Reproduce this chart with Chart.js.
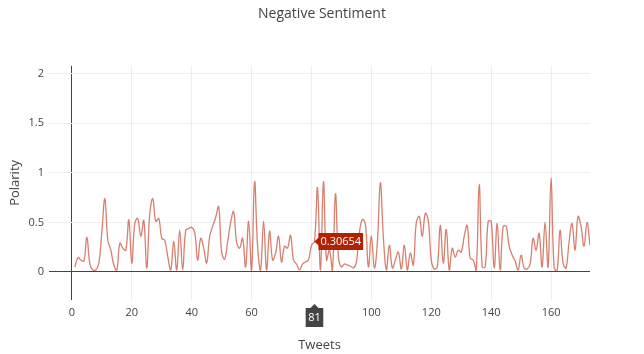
<!DOCTYPE html>
<html>
<head>
<meta charset="utf-8">
<title>Negative Sentiment</title>
<script src="https://cdn.jsdelivr.net/npm/chart.js@4"></script>
<style>
  html, body { margin: 0; padding: 0; background: #fff; }
  #wrap { width: 644px; height: 354px; }
</style>
</head>
<body>
<div id="wrap"><canvas id="sentimentChart" width="644" height="354"></canvas></div>
<script>
// ===== Data =====
const firstTweet = 1;
const polarity = [
  0.05, 0.145, 0.12, 0.11, 0.35, 0.08, 0.02, 0.02, 0.09, 0.4,
  0.74, 0.32, 0.22, 0.07, 0.02, 0.29, 0.24, 0.22, 0.525, 0.09,
  0.49, 0.54, 0.36, 0.52, 0.04, 0.59, 0.74, 0.51, 0.54, 0.34,
  0.32, 0.155, 0.02, 0.31, 0.02, 0.42, 0.02, 0.42, 0.44, 0.45,
  0.4, 0.12, 0.34, 0.24, 0.09, 0.36, 0.46, 0.55, 0.66, 0.2,
  0.13, 0.3, 0.5, 0.61, 0.3, 0.24, 0.34, 0.05, 0.51, 0.02,
  0.91, 0.26, 0.02, 0.51, 0.02, 0.41, 0.12, 0.19, 0.36, 0.1,
  0.26, 0.24, 0.37, 0.12, 0.08, 0.02, 0.08, 0.1, 0.12, 0.27,
  0.30654, 0.85, 0.02, 0.91, 0.12, 0.22, 0.02, 0.79, 0.15, 0.05,
  0.08, 0.07, 0.06, 0.04, 0.1, 0.4, 0.53, 0.48, 0.05, 0.36,
  0.04, 0.3, 0.9, 0.35, 0.02, 0.27, 0.04, 0.12, 0.2, 0.03,
  0.27, 0.02, 0.19, 0.07, 0.5, 0.56, 0.36, 0.59, 0.52, 0.12,
  0.03, 0.05, 0.47, 0.09, 0.43, 0.02, 0.24, 0.15, 0.22, 0.2,
  0.36, 0.47, 0.14, 0.12, 0.02, 0.88, 0.05, 0.05, 0.51, 0.51,
  0.04, 0.49, 0.02, 0.46, 0.46, 0.26, 0.17, 0.11, 0.02, 0.17,
  0.04, 0.03, 0.08, 0.34, 0.22, 0.39, 0.05, 0.5, 0.05, 0.95,
  0.05, 0.01, 0.42, 0.09, 0.04, 0.3, 0.49, 0.22, 0.56, 0.46,
  0.26, 0.5, 0.27
];
const tweets = polarity.map((_, i) => firstTweet + i);
const xTicks = [0, 20, 40, 60, 80, 100, 120, 140, 160];
const yTicks = [0, 0.5, 1, 1.5, 2];
const hoverTweet = 81;

const FONT = '"Open Sans", "DejaVu Sans", sans-serif';
const TEXT = '#444';
const LINE = 'rgba(190, 50, 25, 0.62)';
const HOVER_BG = '#b22200';

// ===== Hover labels (Plotly style) =====
const hoverLabels = {
  id: 'hoverLabels',
  afterDraw(chart) {
    const idx = tweets.indexOf(hoverTweet);
    const pt = chart.getDatasetMeta(0).data[idx];
    if (!pt) return;
    const ctx = chart.ctx;
    const area = chart.chartArea;
    ctx.save();
    ctx.font = '11px ' + FONT;
    ctx.textBaseline = 'middle';

    // value label, right of the point
    const valText = String(polarity[idx]);
    const vw = ctx.measureText(valText).width + 4;
    const vh = 17;
    const bx = pt.x + 4;
    ctx.fillStyle = HOVER_BG;
    ctx.beginPath();
    ctx.moveTo(pt.x, pt.y);
    ctx.lineTo(bx, pt.y - 4);
    ctx.lineTo(bx, pt.y - vh / 2);
    ctx.lineTo(bx + vw, pt.y - vh / 2);
    ctx.lineTo(bx + vw, pt.y + vh / 2);
    ctx.lineTo(bx, pt.y + vh / 2);
    ctx.lineTo(bx, pt.y + 4);
    ctx.closePath();
    ctx.fill();
    ctx.fillStyle = '#fff';
    ctx.textAlign = 'left';
    ctx.fillText(valText, bx + 2, pt.y + 0.5);

    // x label, under the axis
    const xText = String(hoverTweet);
    const xw = ctx.measureText(xText).width + 5;
    const top = area.bottom + 4;
    const boxTop = top + 4;
    const boxBottom = boxTop + 19;
    ctx.fillStyle = TEXT;
    ctx.beginPath();
    ctx.moveTo(pt.x, top);
    ctx.lineTo(pt.x + 4, boxTop);
    ctx.lineTo(pt.x + xw / 2, boxTop);
    ctx.lineTo(pt.x + xw / 2, boxBottom);
    ctx.lineTo(pt.x - xw / 2, boxBottom);
    ctx.lineTo(pt.x - xw / 2, boxTop);
    ctx.lineTo(pt.x - 4, boxTop);
    ctx.closePath();
    ctx.fill();
    ctx.fillStyle = '#fff';
    ctx.textAlign = 'center';
    ctx.fillText(xText, pt.x, (boxTop + boxBottom) / 2 + 0.5);
    ctx.restore();
  }
};

// ===== Chart =====
const gridColor = (c) => (c.tick && c.tick.value === 0 ? TEXT : '#eeeeee');

const ctx = document.getElementById('sentimentChart').getContext('2d');
const sentimentChart = new Chart(ctx, {
  type: 'line',
  data: {
    labels: tweets,
    datasets: [{
      label: 'Negative Sentiment',
      data: tweets.map((t, i) => ({ x: t, y: polarity[i] })),
      borderColor: LINE,
      borderWidth: 1.3,
      pointRadius: 0,
      fill: false,
      tension: 0.4
    }]
  },
  options: {
    responsive: false,
    animation: false,
    devicePixelRatio: 1,
    layout: { padding: 0 },
    plugins: {
      legend: { display: false },
      tooltip: { enabled: false },
      title: {
        display: true,
        text: 'Negative Sentiment',
        color: TEXT,
        font: { family: FONT, size: 14, weight: 'normal' },
        padding: { top: 6, bottom: 43 }
      }
    },
    scales: {
      x: {
        type: 'linear',
        min: -7.65,
        max: 173,
        // keep the plot area clear of the right margin without shifting the title
        afterFit: (s) => { s.height = 54; s.paddingRight = 54; },
        afterBuildTicks: (s) => { s.ticks = xTicks.map(v => ({ value: v })); },
        grid: { color: gridColor, drawTicks: false },
        border: { display: false },
        ticks: {
          color: TEXT,
          padding: 6,
          maxRotation: 0,
          font: { family: FONT, size: 11 },
          callback: (v) => String(v)
        },
        title: {
          display: true,
          text: 'Tweets',
          color: TEXT,
          font: { family: FONT, size: 13 },
          padding: { top: 0, bottom: 1 }
        }
      },
      y: {
        type: 'linear',
        min: -0.283,
        max: 2.08,
        afterFit: (s) => { s.width = 49; },
        afterBuildTicks: (s) => { s.ticks = yTicks.map(v => ({ value: v })); },
        grid: { color: gridColor, drawTicks: false },
        border: { display: false },
        ticks: {
          color: TEXT,
          padding: 5,
          font: { family: FONT, size: 11 },
          callback: (v) => String(v)
        },
        title: {
          display: true,
          text: 'Polarity',
          color: TEXT,
          font: { family: FONT, size: 13 },
          padding: { top: 7, bottom: 0 }
        }
      }
    }
  },
  plugins: [hoverLabels]
});
</script>
</body>
</html>
